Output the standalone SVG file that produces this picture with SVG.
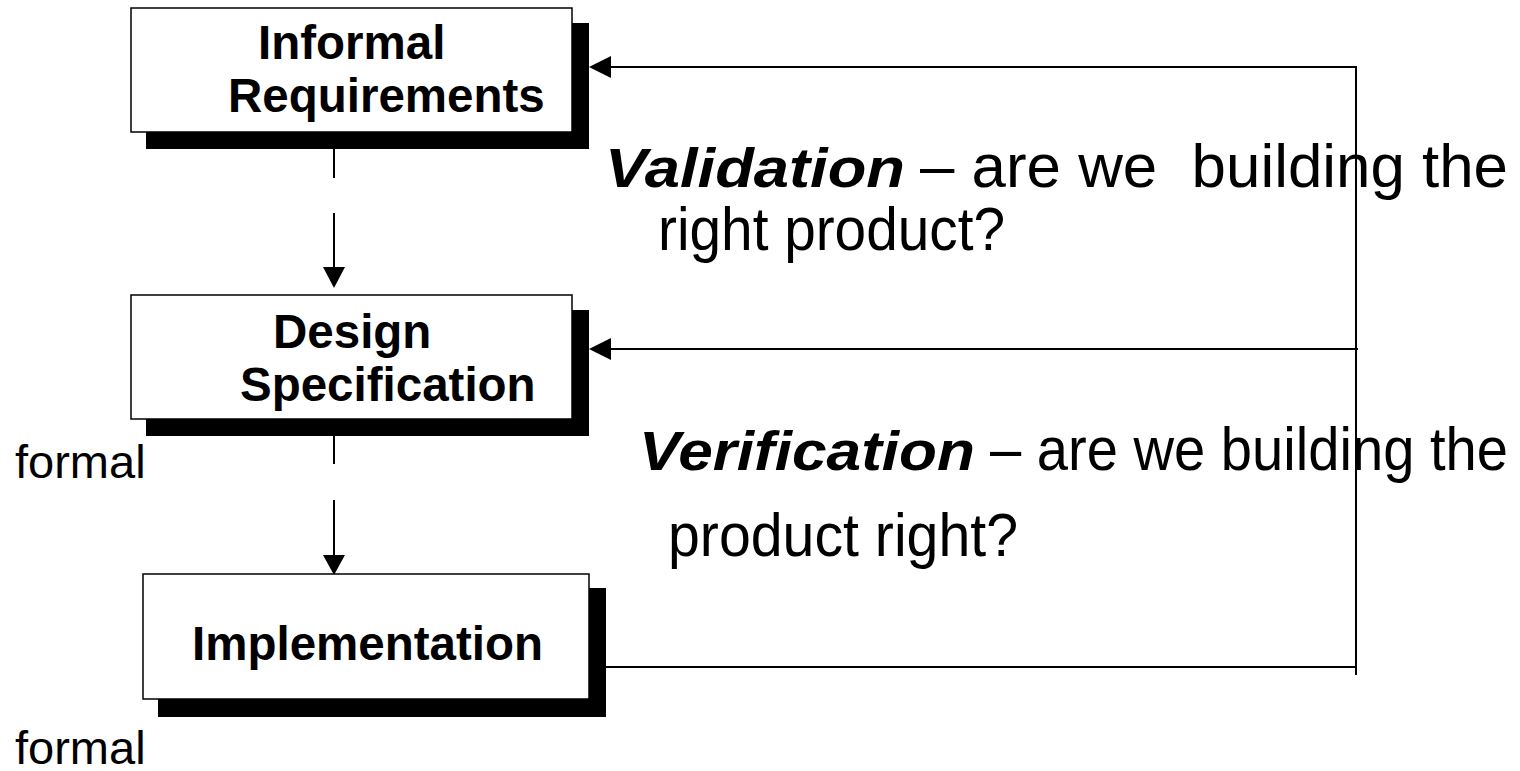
<svg xmlns="http://www.w3.org/2000/svg" width="1520" height="771" viewBox="0 0 1520 771">
  <style>
    .shadow { fill: #000; }
    .box { fill: #fff; stroke: #000; stroke-width: 1.5; }
    .label { font-family: "Liberation Sans", Arial, sans-serif; font-weight: bold; font-size: 47.5px; fill: #000; }
    .conn { stroke: #000; stroke-width: 2; fill: none; }
    .head { fill: #000; }
    .em { font-family: "Liberation Sans", Arial, sans-serif; font-weight: bold; font-style: italic; font-size: 56px; fill: #000; }
    .body { font-family: "Liberation Sans", Arial, sans-serif; font-size: 61px; fill: #000; white-space: pre; }
    .note { font-family: "Liberation Sans", Arial, sans-serif; font-size: 47px; fill: #000; }
  </style>

  <!-- connectors -->
  <g id="connectors">
    <!-- requirements -> design -->
    <line class="conn" x1="334" y1="149" x2="334" y2="178"/>
    <line class="conn" x1="334" y1="213" x2="334" y2="270"/>
    <polygon class="head" points="323,267 345,267 334,288"/>
    <!-- design -> implementation -->
    <line class="conn" x1="334" y1="436" x2="334" y2="464"/>
    <line class="conn" x1="334" y1="500" x2="334" y2="558"/>
    <polygon class="head" points="323,555 345,555 334,575"/>
    <!-- feedback loop on the right -->
    <line class="conn" x1="606" y1="667" x2="1356" y2="667"/>
    <line class="conn" x1="1356" y1="67" x2="1356" y2="675"/>
    <line class="conn" x1="1357" y1="67" x2="608" y2="67"/>
    <polygon class="head" points="589,67 611,56 611,78"/>
    <line class="conn" x1="1358" y1="349" x2="608" y2="349"/>
    <polygon class="head" points="589,349 611,338 611,360"/>
  </g>

  <g id="informal-requirements">
    <rect class="shadow" x="146" y="23" width="443" height="126"/>
    <rect class="box" x="131" y="8" width="441" height="124"/>
    <text class="label" x="258" y="59">Informal</text>
    <text class="label" x="228" y="112">Requirements</text>
  </g>

  <g id="design-specification">
    <rect class="shadow" x="146" y="310" width="443" height="126"/>
    <rect class="box" x="131" y="295" width="441" height="124"/>
    <text class="label" x="273" y="348">Design</text>
    <text class="label" x="240" y="401">Specification</text>
  </g>

  <g id="implementation">
    <rect class="shadow" x="158" y="588" width="448" height="129"/>
    <rect class="box" x="143" y="574" width="446" height="125"/>
    <text class="label" x="192" y="660">Implementation</text>
  </g>

  <g id="annotations">
    <text class="em" x="605" y="187" textLength="300" lengthAdjust="spacingAndGlyphs">Validation</text>
    <text class="body" x="920" y="187" textLength="588" lengthAdjust="spacingAndGlyphs">– are we  building the</text>
    <text class="body" x="658" y="250" textLength="347" lengthAdjust="spacingAndGlyphs">right product?</text>
    <text class="em" x="639" y="470" textLength="336" lengthAdjust="spacingAndGlyphs">Verification</text>
    <text class="body" x="990" y="470" textLength="518" lengthAdjust="spacingAndGlyphs">– are we building the</text>
    <text class="body" x="668" y="556" textLength="350" lengthAdjust="spacingAndGlyphs">product right?</text>
    <text class="note" x="15" y="478">formal</text>
    <text class="note" x="15" y="764">formal</text>
  </g>
</svg>
